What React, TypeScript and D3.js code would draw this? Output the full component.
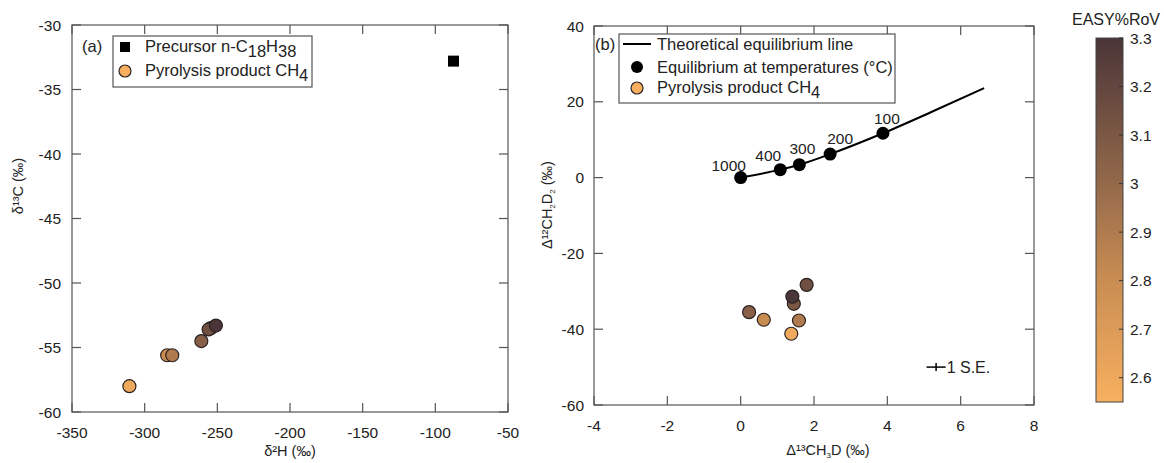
import React from "react";
import * as d3 from "d3";

// ---- Data ----
const precursorD2H = [-87.5];
const precursorD13C = [-32.8];
const precursorSeH = [2.2];
const precursorSeC = [0.3];

const pyroD2H = [-310.5, -284.5, -281, -261, -254.5, -256, -251];
const pyroD13C = [-58.0, -55.6, -55.6, -54.5, -53.5, -53.6, -53.3];
const pyroRoV = [2.6, 2.8, 2.9, 3.05, 3.1, 3.15, 3.3];

const clumpD13CH3D = [0.23, 0.63, 1.38, 1.59, 1.45, 1.8, 1.41];
const clumpD12CH2D2 = [-35.5, -37.5, -41.2, -37.7, -33.3, -28.3, -31.4];
const clumpRoV = [3.05, 2.8, 2.6, 2.9, 3.1, 3.15, 3.3];

const eqTemps = ["1000", "400", "300", "200", "100"];
const eqX = [0, 1.08, 1.6, 2.44, 3.88];
const eqY = [0, 2.1, 3.4, 6.2, 11.7];
const eqLineX = [0, 1.08, 1.6, 2.44, 3.88, 5.2, 6.64];
const eqLineY = [0, 2.1, 3.4, 6.2, 11.7, 17.3, 23.6];

const seX = [5.33];
const seY = [-50];
const seHalf = [0.26];

const ticksAX = [-350, -300, -250, -200, -150, -100, -50];
const ticksAY = [-60, -55, -50, -45, -40, -35, -30];
const ticksBX = [-4, -2, 0, 2, 4, 6, 8];
const ticksBY = [-60, -40, -20, 0, 20, 40];
const ticksCB = [2.6, 2.7, 2.8, 2.9, 3, 3.1, 3.2, 3.3];

// ---- Styles ----
const FONT = "'Liberation Sans', Arial, Helvetica, sans-serif";
const AXIS = "#555";
const TXT = "#222";
const LEG = 16.5;
const TICK = 15.5;
const labelOffsets: [number, number][] = [[-12, -7], [-12, -9], [3, -11], [10, -10], [4, -9]];

const colorScale = d3
  .scaleLinear<string>()
  .domain([2.55, 2.8, 3.0, 3.3])
  .range(["#f8b060", "#c98d52", "#94694a", "#4a3538"])
  .interpolate(d3.interpolateRgb);

const xA = d3.scaleLinear().domain([-350, -50]).range([72, 508]);
const yA = d3.scaleLinear().domain([-60, -30]).range([412, 25]);
const xB = d3.scaleLinear().domain([-4, 8]).range([594, 1034]);
const yB = d3.scaleLinear().domain([-60, 40]).range([405, 26]);
const yC = d3.scaleLinear().domain([2.55, 3.3]).range([402, 38]);

function Frame({ x, y, xt, yt, xLabelY, yLabelX }: any) {
  const [x0, x1] = x.range();
  const [y0, y1] = y.range();
  const T = 9;
  return (
    <g>
      <rect x={x0} y={y1} width={x1 - x0} height={y0 - y1} fill="none" stroke={AXIS} strokeWidth={1.2} />
      {xt.map((t: number) => (
        <g key={"x" + t}>
          <line x1={x(t)} x2={x(t)} y1={y0} y2={y0 - T} stroke={AXIS} strokeWidth={1.2} />
          <line x1={x(t)} x2={x(t)} y1={y1} y2={y1 + T} stroke={AXIS} strokeWidth={1.2} />
          <text x={x(t)} y={xLabelY} textAnchor="middle" fontSize={TICK} fill={TXT}>{t}</text>
        </g>
      ))}
      {yt.map((t: number) => (
        <g key={"y" + t}>
          <line x1={x0} x2={x0 + T} y1={y(t)} y2={y(t)} stroke={AXIS} strokeWidth={1.2} />
          <line x1={x1} x2={x1 - T} y1={y(t)} y2={y(t)} stroke={AXIS} strokeWidth={1.2} />
          <text x={yLabelX} y={y(t) + 5.5} textAnchor="end" fontSize={TICK} fill={TXT}>{t}</text>
        </g>
      ))}
    </g>
  );
}

export default function App() {
  const line = d3
    .line<number>()
    .x((_, i) => xB(eqLineX[i]))
    .y((d) => yB(d))
    .curve(d3.curveMonotoneX);

  const gradStops = d3.range(0, 21).map((i) => 2.55 + (i / 20) * 0.75);

  return (
    <div style={{ position: "absolute", left: 0, top: 0 }}>
      <svg width={1164} height={463} style={{ fontFamily: FONT, display: "block" }}>
        <defs>
          <linearGradient id="cb" x1="0" y1="1" x2="0" y2="0">
            {gradStops.map((v, i) => (
              <stop key={i} offset={`${(i / 20) * 100}%`} stopColor={colorScale(v)} />
            ))}
          </linearGradient>
        </defs>
        <rect width={1164} height={463} fill="#fff" />

        {/* Panel A */}
        <Frame x={xA} y={yA} xt={ticksAX} yt={ticksAY} xLabelY={438} yLabelX={61} />
        <text x={290} y={456} textAnchor="middle" fontSize={14.5} fill={TXT}>δ²H (‰)</text>
        <text transform="translate(23,186) rotate(-90)" textAnchor="middle" fontSize={14.5} fill={TXT}>δ¹³C (‰)</text>

        {precursorD2H.map((h, i) => (
          <g key={"p" + i}>
            <line x1={xA(h - precursorSeH[i])} x2={xA(h + precursorSeH[i])} y1={yA(precursorD13C[i])} y2={yA(precursorD13C[i])} stroke="#000" strokeWidth={1.5} />
            <line x1={xA(h)} x2={xA(h)} y1={yA(precursorD13C[i] - precursorSeC[i])} y2={yA(precursorD13C[i] + precursorSeC[i])} stroke="#000" strokeWidth={1.5} />
            <rect x={xA(h) - 5.5} y={yA(precursorD13C[i]) - 5.5} width={11} height={11} fill="#000" />
          </g>
        ))}
        {pyroD2H.map((h, i) => (
          <circle key={"a" + i} cx={xA(h)} cy={yA(pyroD13C[i])} r={6.5} fill={colorScale(pyroRoV[i])} stroke="#2b2222" strokeWidth={1.2} />
        ))}

        {/* Legend A */}
        <text x={82} y={52} fontSize={LEG} fill={TXT}>(a)</text>
        <rect x={113} y={36} width={199} height={51} fill="#fff" stroke={AXIS} strokeWidth={1.2} />
        <rect x={120} y={42} width={10} height={10} fill="#000" />
        <text x={145} y={52} fontSize={LEG} fill={TXT}>
          Precursor n-C<tspan dy={5}>18</tspan>
          <tspan dy={-5}>H</tspan>
          <tspan dy={5}>38</tspan>
        </text>
        <circle cx={125} cy={71} r={6} fill={colorScale(2.55)} stroke="#2b2222" strokeWidth={1.2} />
        <text x={145} y={76} fontSize={LEG} fill={TXT}>
          Pyrolysis product CH<tspan dy={5}>4</tspan>
        </text>

        {/* Panel B */}
        <Frame x={xB} y={yB} xt={ticksBX} yt={ticksBY} xLabelY={431} yLabelX={584} />
        <text x={828} y={455} textAnchor="middle" fontSize={14.5} fill={TXT}>
          Δ¹³CH<tspan fontSize={8} dy={3}>3</tspan><tspan dy={-3}>D (‰)</tspan>
        </text>
        <text transform="translate(552,205) rotate(-90)" textAnchor="middle" fontSize={14.5} fill={TXT}>
          Δ¹²CH<tspan fontSize={8} dy={3}>2</tspan><tspan dy={-3}>D</tspan><tspan fontSize={8} dy={3}>2</tspan><tspan dy={-3}> (‰)</tspan>
        </text>

        <path d={line(eqLineY) || ""} fill="none" stroke="#000" strokeWidth={2} />
        {eqX.map((v, i) => (
          <g key={"e" + i}>
            <circle cx={xB(v)} cy={yB(eqY[i])} r={6.5} fill="#000" />
            <text x={xB(v) + labelOffsets[i][0]} y={yB(eqY[i]) + labelOffsets[i][1]} textAnchor="middle" fontSize={15.5} fill={TXT}>{eqTemps[i]}</text>
          </g>
        ))}
        {clumpD13CH3D.map((v, i) => (
          <circle key={"b" + i} cx={xB(v)} cy={yB(clumpD12CH2D2[i])} r={6.5} fill={colorScale(clumpRoV[i])} stroke="#2b2222" strokeWidth={1.2} />
        ))}

        {seX.map((v, i) => (
          <g key={"se" + i}>
            <line x1={xB(v - seHalf[i])} x2={xB(v + seHalf[i])} y1={yB(seY[i])} y2={yB(seY[i])} stroke="#000" strokeWidth={1.5} />
            <line x1={xB(v)} x2={xB(v)} y1={yB(seY[i]) - 4} y2={yB(seY[i]) + 4} stroke="#000" strokeWidth={1.5} />
            <text x={xB(v + seHalf[i]) + 1} y={yB(seY[i]) + 6} fontSize={16} fill={TXT}>1 S.E.</text>
          </g>
        ))}

        {/* Legend B */}
        <text x={595} y={50} fontSize={LEG} fill={TXT}>(b)</text>
        <rect x={619} y={34} width={276} height={69} fill="#fff" stroke={AXIS} strokeWidth={1.2} />
        <line x1={623} x2={651} y1={44} y2={44} stroke="#000" strokeWidth={2} />
        <text x={657} y={50} fontSize={LEG} fill={TXT}>Theoretical equilibrium line</text>
        <circle cx={637} cy={67} r={6} fill="#000" />
        <text x={657} y={73} fontSize={LEG} fill={TXT}>Equilibrium at temperatures (°C)</text>
        <circle cx={637} cy={88} r={6} fill={colorScale(2.55)} stroke="#2b2222" strokeWidth={1.2} />
        <text x={657} y={93} fontSize={LEG} fill={TXT}>
          Pyrolysis product CH<tspan dy={5}>4</tspan>
        </text>

        {/* Colorbar */}
        <text x={1116} y={25} textAnchor="middle" fontSize={16} fill={TXT}>EASY%RoV</text>
        <rect x={1096} y={yC(3.3)} width={27} height={yC(2.55) - yC(3.3)} fill="url(#cb)" stroke="#444" strokeWidth={1} />
        {ticksCB.map((t) => (
          <g key={"c" + t}>
            <line x1={1123} x2={1119} y1={yC(t)} y2={yC(t)} stroke="#333" strokeWidth={1} />
            <text x={1130} y={yC(t) + 5.5} fontSize={TICK} fill={TXT}>{t}</text>
          </g>
        ))}
      </svg>
    </div>
  );
}
